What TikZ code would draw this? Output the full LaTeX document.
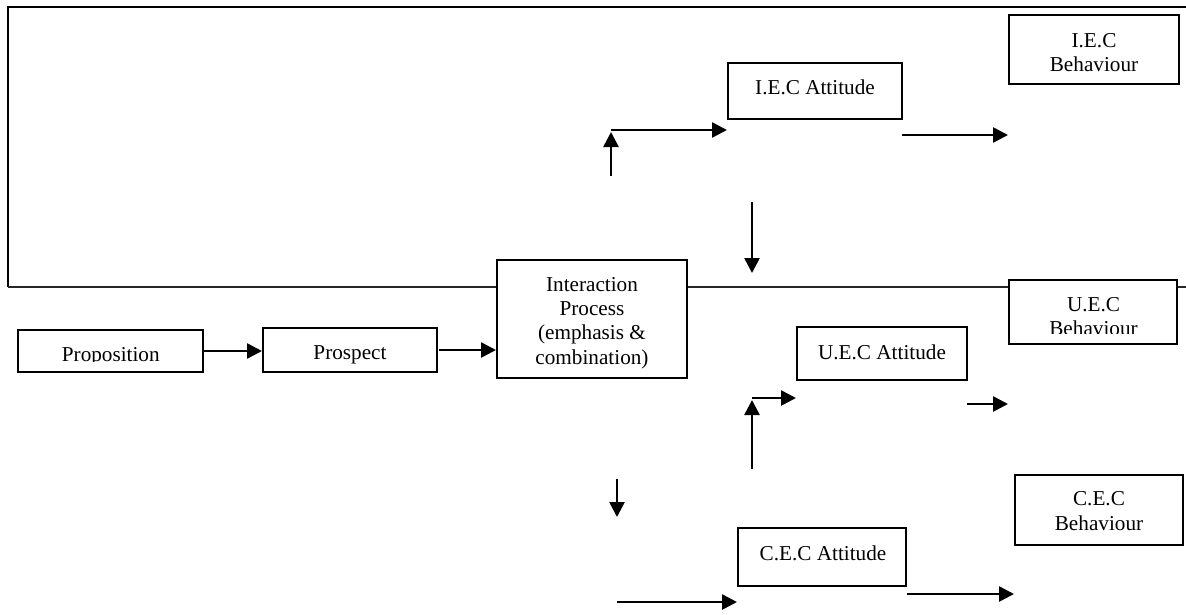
\documentclass[tikz,border=0pt]{standalone}
\usepackage{fontspec}
\setmainfont{Liberation Serif}
\usetikzlibrary{arrows.meta}
\begin{document}
\begin{tikzpicture}[x=1pt,y=-1pt,
  box/.style={draw, line width=2pt, inner sep=0pt},
  lbl/.style={inner sep=0pt, align=center, font=\fontsize{21.2}{24.3}\selectfont},
  frame/.style={line width=2.3pt},
  midline/.style={line width=1.6pt, black!85},
  arr/.style={line width=2.6pt, -{Triangle[length=15pt,width=15pt]}}]
\useasboundingbox (0,0) rectangle (1186,614);

% boxes
\node[box, minimum width=185pt, minimum height=42pt] (prop)  at (110.5,351) {};
\node[box, minimum width=174pt, minimum height=44pt] (prosp) at (350,350) {};
\node[box, minimum width=190pt, minimum height=118pt] (inter) at (592,319) {};
\node[box, minimum width=174pt, minimum height=56pt] (iecA)  at (815,91) {};
\node[box, minimum width=170pt, minimum height=69pt] (iecB)  at (1094,49.5) {};
\node[box, minimum width=170pt, minimum height=53pt] (uecA)  at (882,353.5) {};
\node[box, minimum width=168pt, minimum height=64pt] (uecB)  at (1093,312) {};
\node[box, minimum width=168pt, minimum height=58pt] (cecA)  at (822,557) {};
\node[box, minimum width=168pt, minimum height=70pt] (cecB)  at (1099,510) {};

% labels
\begin{scope}
  \clip (18,330) rectangle (203,361.8);
  \node[lbl, anchor=base] (propText) at (110.8,361) {Proposition};
\end{scope}
\node[lbl, anchor=base]  (prospText) at (350,359) {Prospect};
\node[lbl, anchor=north] (interText) at (592,277) {Interaction\\Process\\(emphasis \&\\combination)};
\node[lbl, anchor=base]  (iecAText)  at (815,94.3) {I.E.C Attitude};
\node[lbl, anchor=north] (iecBText)  at (1094,33.3) {I.E.C\\Behaviour};
\node[lbl, anchor=base]  (uecAText)  at (882,359.5) {U.E.C Attitude};
\begin{scope}
  \clip (1009,280) rectangle (1177,333.5);
  \node[lbl, anchor=north] (uecBText) at (1093.5,297) {U.E.C\\Behaviour};
\end{scope}
\node[lbl, anchor=base]  (cecAText)  at (823,560) {C.E.C Attitude};
\node[lbl, anchor=north] (cecBText)  at (1099,491.5) {C.E.C\\Behaviour};

% open frame and middle line
\coordinate (frameNE) at (1186,7);
\coordinate (frameNW) at (8,7);
\coordinate (frameSW) at (8,287);
\coordinate (frameE)  at (1186,287);
\draw[frame] (frameNE) -- (frameNW) -- (frameSW);
\draw[midline] (frameSW) -- (frameSW -| inter.west);
\draw[midline] (frameSW -| inter.east) -- (frameSW -| uecB.west);
\draw[midline] (frameSW -| uecB.east) -- (frameE);

% main chain
\draw[arr] (prop.east) -- (prop.east -| prosp.west);
\coordinate (prospOut) at (439,350);
\draw[arr] (prospOut) -- (prospOut -| inter.west);

% I.E.C branch
\coordinate (upAfoot) at (611,176);
\coordinate (upAtip)  at (611,132);
\draw[arr] (upAfoot) -- (upAtip);
\coordinate (turnA) at (611,130);
\draw[arr] (turnA) -- (turnA -| iecA.west);
\coordinate (iecOut) at (902,135);
\draw[arr] (iecOut) -- (iecOut -| iecB.west);
\coordinate (dnFoot) at (752,202);
\coordinate (dnTip)  at (752,273);
\draw[arr] (dnFoot) -- (dnTip);

% U.E.C branch
\coordinate (upBfoot) at (752,469);
\coordinate (upBtip)  at (752,400);
\draw[arr] (upBfoot) -- (upBtip);
\coordinate (turnB) at (752,398);
\draw[arr] (turnB) -- (turnB -| uecA.west);
\coordinate (uecOut) at (967,404);
\draw[arr] (uecOut) -- (uecOut -| uecB.west);

% C.E.C branch
\coordinate (dnCfoot) at (617,479);
\coordinate (dnCtip)  at (617,517);
\draw[arr] (dnCfoot) -- (dnCtip);
\coordinate (cecIn) at (617,602);
\draw[arr] (cecIn) -- (cecIn -| cecA.west);
\coordinate (cecOut) at (907,594);
\draw[arr] (cecOut) -- (cecOut -| cecB.west);
\end{tikzpicture}
\end{document}
